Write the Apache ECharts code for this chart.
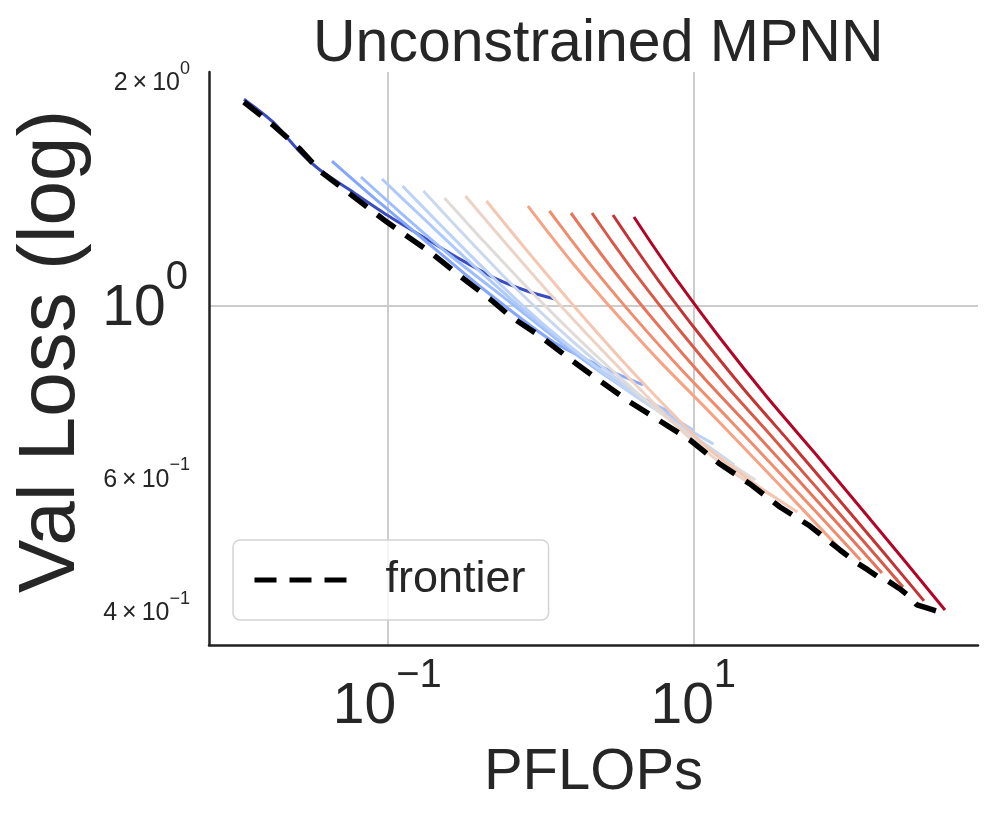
<!DOCTYPE html>
<html><head><meta charset="utf-8">
<script src="https://cdn.jsdelivr.net/npm/echarts@6/dist/echarts.min.js"></script>
<style>html,body{margin:0;padding:0;background:#fff}#chart{width:996px;height:823px}</style>
</head><body><div id="chart"></div>
<script>
// ---- data (PFLOPs, validation loss) ----
const run0Flops = [0.01157, 0.01790, 0.02688, 0.03632, 0.05704, 0.09955, 0.1901, 0.2987, 0.5212, 0.8565, 1.248];
const run0Loss  = [1.873, 1.748, 1.596, 1.511, 1.422, 1.318, 1.218, 1.153, 1.085, 1.0434, 1.0215];
const run1Flops = [0.04351, 0.07943, 0.1686, 0.4159, 1.193, 2.531, 4.690];
const run1Loss  = [1.5525, 1.3961, 1.2291, 1.0561, 0.8993, 0.8310, 0.7871];
const run2Flops = [0.06731, 0.1229, 0.2608, 0.6434, 1.845, 3.915, 7.259];
const run2Loss  = [1.479, 1.326, 1.1637, 1.0091, 0.8540, 0.7703, 0.7228];
const run3Flops = [0.09235, 0.1686, 0.3578, 0.8826, 2.531, 5.372, 9.954];
const run3Loss  = [1.470, 1.310, 1.1358, 0.9672, 0.8210, 0.7428, 0.6865];
const run4Flops = [0.1257, 0.2295, 0.4871, 1.2016, 3.446, 7.313, 13.55];
const run4Loss  = [1.439, 1.271, 1.0919, 0.9241, 0.7822, 0.7077, 0.6580];
const run5Flops = [0.1724, 0.3148, 0.6680, 1.648, 4.726, 10.03, 18.59];
const run5Loss  = [1.418, 1.244, 1.0625, 0.8965, 0.7518, 0.6740, 0.6174];
const run6Flops = [0.2365, 0.4318, 0.9165, 2.261, 6.483, 13.76, 25.50];
const run6Loss  = [1.388, 1.214, 1.0339, 0.8645, 0.7163, 0.6402, 0.5898];
const run7Flops = [0.3244, 0.5922, 1.2568, 3.101, 8.892, 18.87, 34.99];
const run7Loss  = [1.396, 1.2106, 1.0184, 0.8387, 0.6781, 0.6007, 0.5584];
const run8Flops = [0.4450, 0.8124, 1.7245, 4.254, 12.20, 25.89, 47.97];
const run8Loss  = [1.3751, 1.1852, 0.9909, 0.8087, 0.6520, 0.5810, 0.5353];
const run9Flops = [0.8310, 1.1228, 1.636, 3.032, 6.150, 12.48, 24.93, 48.34, 89.61];
const run9Loss  = [1.354, 1.2515, 1.1379, 0.9841, 0.8422, 0.7285, 0.6300, 0.5478, 0.4800];
const run10Flops = [1.1483, 1.552, 2.261, 4.190, 8.500, 17.24, 34.46, 66.80, 123.8];
const run10Loss  = [1.334, 1.2306, 1.1167, 0.9631, 0.8215, 0.7083, 0.6108, 0.5295, 0.4627];
const run11Flops = [1.587, 2.145, 3.125, 5.790, 11.75, 23.83, 47.62, 92.35, 171.1];
const run11Loss  = [1.326, 1.2199, 1.1036, 0.9474, 0.8040, 0.6901, 0.5923, 0.5111, 0.4449];
const run12Flops = [2.178, 2.942, 4.285, 7.943, 16.11, 32.69, 65.31, 126.7, 234.8];
const run12Loss  = [1.326, 1.2159, 1.0959, 0.9349, 0.7885, 0.6726, 0.5737, 0.4924, 0.4264];
const run13Flops = [2.987, 4.036, 5.879, 10.90, 22.10, 44.83, 89.61, 173.8, 322.0];
const run13Loss  = [1.318, 1.2051, 1.0828, 0.9191, 0.7708, 0.6544, 0.5554, 0.4744, 0.4087];
const run14Flops = [4.097, 5.535, 8.063, 14.94, 30.32, 61.50, 122.9, 238.3, 441.7];
const run14Loss  = [1.310, 1.196, 1.0723, 0.9075, 0.7587, 0.6420, 0.5435, 0.4627, 0.3976];

const frontierFlops = [0.01157, 0.01790, 0.02688, 0.03632, 0.05704, 0.09955, 0.1901, 0.2987, 0.4690, 0.6339, 0.9955, 1.564, 2.456, 3.857, 6.058, 9.515, 14.94, 23.47, 36.87, 57.9, 90.9, 117.5, 138.6, 161.1, 187.3, 224.4, 260.8, 289.8, 352.4, 428.5];
const frontierLoss  = [1.857, 1.732, 1.610, 1.506, 1.405, 1.290, 1.178, 1.0953, 1.0215, 0.9701, 0.9130, 0.8514, 0.7965, 0.7472, 0.7055, 0.6659, 0.6191, 0.5828, 0.5435, 0.5129, 0.4770, 0.4585, 0.4490, 0.4395, 0.4342, 0.4238, 0.4136, 0.4037, 0.3988, 0.3940];

const runColors = ['#3b4cc0', '#84a7fc', '#9dbdff', '#aec9fc', '#bcd2f7', '#cad8ef', '#dfdbd9', '#ecd3c5', '#f3c7b1', '#f6a385', '#f18d6f', '#e7755b', '#d95847', '#c53334', '#b40426'];

// axis ticks
const xTickValues = [0.1, 10];
const xTickBase = ['10', '10'];
const xTickExp = ['\u22121', '1'];
const xGridValues = [0.1, 10];
const yTickValues = [2, 1, 0.6, 0.4];
const yTickBase = ['2\u2009\u00d7\u200910', '10', '6\u2009\u00d7\u200910', '4\u2009\u00d7\u200910'];
const yTickExp = ['0', '0', '\u22121', '\u22121'];
const yTickMajor = [false, true, false, false];
const yGridValues = [1];

const xRange = [0.006839, 726.1];
const yRange = [0.3575, 2.034];

// ---- chart ----
const FONT = "'Liberation Sans', Arial, Helvetica, sans-serif";
const TXT = '#262626';
const L = Math.log10;

const runs = [
  [run0Flops, run0Loss], [run1Flops, run1Loss], [run2Flops, run2Loss], [run3Flops, run3Loss],
  [run4Flops, run4Loss], [run5Flops, run5Loss], [run6Flops, run6Loss], [run7Flops, run7Loss],
  [run8Flops, run8Loss], [run9Flops, run9Loss], [run10Flops, run10Loss], [run11Flops, run11Loss],
  [run12Flops, run12Loss], [run13Flops, run13Loss], [run14Flops, run14Loss]
];

function idxOf(list, v) {
  for (let i = 0; i < list.length; i++) if (Math.abs(L(list[i]) - v) < 1e-6) return i;
  return -1;
}

const series = runs.map((r, i) => ({
  type: 'line', name: 'run' + i,
  data: r[0].map((x, j) => [L(x), L(r[1][j])]),
  symbol: 'none', showSymbol: false, smooth: 0.25,
  lineStyle: { color: runColors[i], width: 3 },
  itemStyle: { color: runColors[i] }, silent: true, z: 2
}));
series.push({
  type: 'line', name: 'frontier',
  data: frontierFlops.map((x, j) => [L(x), L(frontierLoss[j])]),
  symbol: 'none', showSymbol: false,
  lineStyle: { color: '#000000', width: 5.5, type: [22, 13] },
  itemStyle: { color: '#000000' }, silent: true, z: 3
});

const chart = echarts.init(document.getElementById('chart'));
chart.setOption({
  animation: false,
  backgroundColor: '#ffffff',
  title: {
    text: 'Unconstrained MPNN', left: 308, top: 10,
    textStyle: { fontFamily: FONT, fontSize: 59, fontWeight: 'normal', color: TXT }
  },
  legend: {
    data: ['frontier'], left: 233, top: 540, orient: 'vertical',
    itemWidth: 93, itemHeight: 14, padding: [13, 23, 13, 19],
    borderColor: '#d4d4d4', borderWidth: 1.5, borderRadius: 7,
    backgroundColor: 'rgba(255,255,255,0.8)', selectedMode: false,
    lineStyle: { width: 5 },
    itemStyle: { color: 'rgba(0,0,0,0)', borderColor: 'rgba(0,0,0,0)', borderWidth: 0, opacity: 0 },
    textStyle: { fontFamily: FONT, fontSize: 45, color: TXT, lineHeight: 54, padding: [0, 0, 0, 33] }
  },
  grid: { left: 209, right: 18, top: 72, bottom: 178, containLabel: false, outerBoundsMode: 'none' },
  xAxis: {
    type: 'value', min: L(xRange[0]), max: L(xRange[1]),
    axisLine: { show: true, onZero: false, lineStyle: { color: '#222', width: 2.5 } },
    axisTick: { show: false, customValues: xGridValues.map(L) },
    splitLine: { show: true, lineStyle: { color: '#cccccc', width: 2 } },
    axisLabel: {
      customValues: xTickValues.map(L), margin: 11,
      formatter: v => { const i = idxOf(xTickValues, v); return i < 0 ? '' : '{b|' + xTickBase[i] + '}{s|' + xTickExp[i] + '}'; },
      rich: {
        b: { fontFamily: FONT, fontSize: 57, height: 57, verticalAlign: 'bottom', color: TXT },
        s: { fontFamily: FONT, fontSize: 40, height: 40, verticalAlign: 'top', padding: [0, 0, 40, 0], color: TXT }
      }
    },
    name: 'PFLOPs', nameLocation: 'middle', nameGap: 99, nameMoveOverlap: false,
    nameTextStyle: { fontFamily: FONT, fontSize: 58, color: TXT }
  },
  yAxis: {
    type: 'value', min: L(yRange[0]), max: L(yRange[1]),
    axisLine: { show: true, onZero: false, lineStyle: { color: '#222', width: 2.5 } },
    axisTick: { show: false, customValues: yGridValues.map(L) },
    splitLine: { show: true, lineStyle: { color: '#cccccc', width: 2 } },
    axisLabel: {
      customValues: yTickValues.map(L), margin: 19,
      formatter: v => {
        const i = idxOf(yTickValues, v); if (i < 0) return '';
        return yTickMajor[i] ? '{mb|' + yTickBase[i] + '}{ms|' + yTickExp[i] + '}'
                             : '{nb|' + yTickBase[i] + '}{ns|' + yTickExp[i] + '}';
      },
      rich: {
        mb: { fontFamily: FONT, fontSize: 57, height: 57, verticalAlign: 'bottom', padding: [0, 0, 16, 0], color: TXT },
        ms: { fontFamily: FONT, fontSize: 40, height: 40, verticalAlign: 'top', padding: [0, 2, 56, 0], color: TXT },
        nb: { fontFamily: FONT, fontSize: 25, height: 25, verticalAlign: 'bottom', color: TXT },
        ns: { fontFamily: FONT, fontSize: 18, height: 18, verticalAlign: 'top', padding: [0, 0, 18, 0], color: TXT }
      }
    },
    name: 'Val Loss (log)', nameLocation: 'middle', nameGap: 117, nameRotate: 90, nameMoveOverlap: false,
    nameTextStyle: { fontFamily: FONT, fontSize: 80, color: TXT, padding: [0, 0, 0, 14] }
  },
  series: series
});
</script>
</body></html>
